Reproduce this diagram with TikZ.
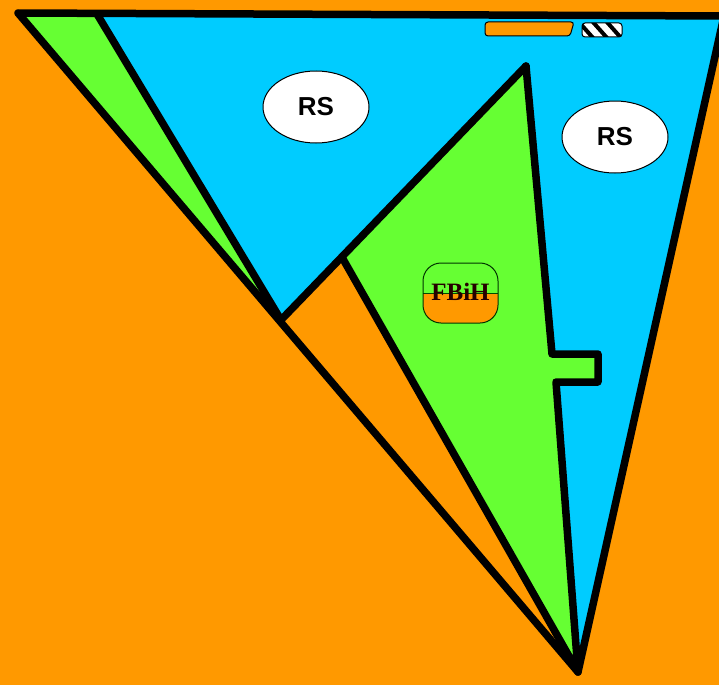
\documentclass[tikz,border=0pt]{standalone}
\usepackage{fontspec}
\setmainfont{Liberation Serif}
\setsansfont{Liberation Sans}
\usetikzlibrary{shapes.geometric}

\definecolor{mapOrange}{HTML}{FF9900}
\definecolor{mapBlue}{HTML}{00CCFF}
\definecolor{mapGreen}{HTML}{66FF33}

\begin{document}
\begin{tikzpicture}[
    x=1pt, y=-1pt,
    border/.style={draw=black, line width=7.5pt, line join=round, line cap=round},
    entity/.style={ellipse, draw, line width=1pt, inner sep=0pt, fill=white,
        minimum width=106pt, minimum height=72pt, font=\sffamily\bfseries\fontsize{26}{26}\selectfont},
    badge/.style={draw=black!80!green, line width=1pt, rounded corners=18pt},
    badgetext/.style={font=\rmfamily\bfseries\fontsize{25}{25}\selectfont, text=black!85!red, inner sep=0pt},
    tab/.style={draw=black, line width=1pt, rounded corners=3pt}
]
\useasboundingbox (0,0) rectangle (719,685);
\fill[mapOrange] (0,0) rectangle (719,685);

% corners of the map
\coordinate (nw) at (18,13);
\coordinate (ne) at (724,16);
\coordinate (tip) at (578,672);
\coordinate (bl) at (97,14);
\coordinate (vee) at (281,320);
\coordinate (apex) at (526,66);
\coordinate (gl) at (343,259);
\coordinate (st1) at (552,354);
\coordinate (st2) at (598,354);
\coordinate (st3) at (598,382);
\coordinate (st4) at (556,382);

% regions
\fill[mapBlue] (bl) -- (ne) -- (tip) -- (apex) -- (vee) -- cycle;
\fill[mapGreen] (nw) -- (bl) -- (vee) -- cycle;
\fill[mapGreen] (apex) -- (st1) -- (st2) -- (st3) -- (st4) -- (tip) -- (gl) -- cycle;

% borders
\draw[border] (nw) -- (ne) -- (tip) -- cycle;
\draw[border] (bl) -- (vee) -- (apex);
\draw[border] (apex) -- (st1) -- (st2) -- (st3) -- (st4) -- (tip) -- (gl);

% small pieces at the top
\draw[tab, fill=mapOrange] (485,22) -- (574,22) -- (570,36) -- (485,36) -- cycle;
\begin{scope}
  \clip[rounded corners=3pt] (582,23) rectangle (622,37);
  \fill[white] (582,23) rectangle (622,37);
  \foreach \s in {578,592,606} {
    \draw[line width=4pt] (\s,21) -- (\s+16,39);
  }
\end{scope}
\draw[tab] (582,23) rectangle (622,37);

% labels
\node[entity] (rsWest) at (316,107) {RS};
\node[entity] (rsEast) at (615,137) {RS};

\begin{scope}
  \clip[rounded corners=18pt] (423,263) rectangle (498,323);
  \fill[mapOrange] (423,293) rectangle (498,323);
  \draw[line width=1pt, black!70!green] (423,293) -- (498,293);
\end{scope}
\draw[badge] (423,263) rectangle (498,323);
\node[badgetext] (fbihLabel) at (460.5,292) {FBiH};
\end{tikzpicture}
\end{document}
